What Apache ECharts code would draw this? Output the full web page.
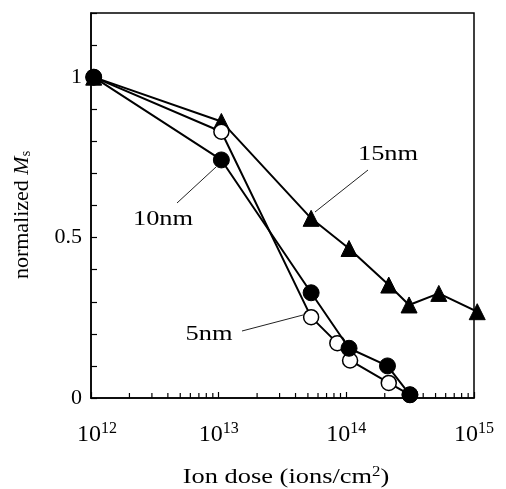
<!DOCTYPE html>
<html><head><meta charset="utf-8">
<script src="https://cdn.jsdelivr.net/npm/echarts@6/dist/echarts.min.js"></script>
<style>html,body{margin:0;padding:0;background:#fff}#c{width:506px;height:489px}</style>
</head><body><div id="c"></div>
<script>
// ---- data (doses) ----
const dose15 = [1.05e12, 1.05e13, 5.3e13, 1.05e14, 2.15e14, 3.1e14, 5.3e14, 1.06e15];
const ms15   = [1.0, 0.862, 0.56, 0.466, 0.352, 0.29, 0.326, 0.269];
const dose10 = [1.05e12, 1.05e13, 5.3e13, 1.05e14, 2.1e14, 3.15e14];
const ms10   = [1.0, 0.742, 0.328, 0.155, 0.10, 0.01];
const dose5  = [1.05e12, 1.05e13, 5.3e13, 8.5e13, 1.07e14, 2.15e14, 3.15e14];
const ms5    = [1.0, 0.83, 0.252, 0.171, 0.117, 0.047, 0.01];
const yTickLabels = [0, 0.5, 1];
const minorTickValues = [];
[1e12, 1e13, 1e14].forEach(d => { for (let k = 2; k <= 9; k++) minorTickValues.push(k * d); });

const FONT = '"Liberation Serif", "DejaVu Serif", serif';
const zip = (a, b) => a.map((v, i) => [v, b[i]]);

const chart = echarts.init(document.getElementById('c'), null, {renderer: 'canvas'});
const lineStyle = {color: '#000', width: 2};
const SX = 1.2;
chart.setOption({
  animation: false,
  grid: {left: 91, right: 32, top: 13, bottom: 91, show: true, borderColor: '#000', borderWidth: 1.5, backgroundColor: 'transparent'},
  xAxis: {
    type: 'log', logBase: 10, min: 1e12, max: 1e15,
    axisLine: {lineStyle: {color: '#000', width: 1.5}},
    axisTick: {inside: true, length: 6, lineStyle: {color: '#000', width: 1.2}},
    splitLine: {show: false},
    axisLabel: {
      margin: 23,
      formatter: v => {
        const e = Math.round(Math.log10(v));
        return (e === 12 ? '{f|10}' : '{b|10}') + '{s|' + e + '}';
      },
      rich: {
        f: {fontFamily: FONT, fontSize: 24, color: '#000', padding: [0, 0, 0, 12]},
        b: {fontFamily: FONT, fontSize: 24, color: '#000'},
        s: {fontFamily: FONT, fontSize: 16, color: '#000', verticalAlign: 'top', padding: [0, 0, 12, 0]}
      }
    }
  },
  yAxis: {
    type: 'value', min: 0, max: 1.2, interval: 0.1,
    axisLine: {show: true, lineStyle: {color: '#000', width: 1.5}},
    axisTick: {inside: true, length: 6, lineStyle: {color: '#000', width: 1.2}},
    splitLine: {show: false},
    axisLabel: {
      margin: 9, fontFamily: FONT, fontSize: 22, color: '#000',
      formatter: v => {
        const m = yTickLabels.find(t => Math.abs(t - v) < 1e-6);
        return m === undefined ? '' : String(m);
      }
    }
  },
  series: [
    {
      type: 'custom', silent: true, z: 1,
      data: minorTickValues.map(v => [v, 0]),
      renderItem: (params, api) => {
        const p = api.coord([api.value(0), 0]);
        return {type: 'line', shape: {x1: p[0], y1: p[1], x2: p[0], y2: p[1] - 5}, style: {stroke: '#000', lineWidth: 1.2}};
      }
    },
    {
      name: '15nm', type: 'line', data: zip(dose15, ms15), clip: false, z: 2,
      symbol: 'triangle', symbolSize: 16, lineStyle,
      itemStyle: {color: '#000', borderColor: '#000'}
    },
    {
      name: '5nm', type: 'line', data: zip(dose5, ms5), clip: false, z: 3,
      symbol: 'circle', symbolSize: 15, showAllSymbol: true, lineStyle,
      itemStyle: {color: '#fff', borderColor: '#000', borderWidth: 1.5}
    },
    {
      name: '10nm', type: 'line', data: zip(dose10, ms10), clip: false, z: 4,
      symbol: 'circle', symbolSize: 16, lineStyle,
      itemStyle: {color: '#000', borderColor: '#000'}
    }
  ],
  graphic: [
    {type: 'text', x: 388, y: 154, scaleX: SX, style: {text: '15nm', font: '22px ' + FONT, fill: '#000', align: 'center', verticalAlign: 'middle'}},
    {type: 'line', shape: {x1: 368, y1: 170, x2: 315, y2: 212}, style: {stroke: '#222', lineWidth: 1}},
    {type: 'text', x: 163, y: 219, scaleX: SX, style: {text: '10nm', font: '22px ' + FONT, fill: '#000', align: 'center', verticalAlign: 'middle'}},
    {type: 'line', shape: {x1: 177, y1: 203, x2: 216, y2: 167}, style: {stroke: '#222', lineWidth: 1}},
    {type: 'text', x: 209, y: 334, scaleX: SX, style: {text: '5nm', font: '22px ' + FONT, fill: '#000', align: 'center', verticalAlign: 'middle'}},
    {type: 'line', shape: {x1: 242, y1: 331, x2: 303, y2: 315}, style: {stroke: '#222', lineWidth: 1}},
    {
      type: 'text', x: 22, y: 215, rotation: Math.PI / 2,
      style: {
        text: '{n|normalized }{m|M}{s|s}', align: 'center', verticalAlign: 'middle',
        rich: {
          n: {fontFamily: FONT, fontSize: 22, fill: '#000'},
          m: {fontFamily: FONT, fontSize: 22, fontStyle: 'italic', fill: '#000'},
          s: {fontFamily: FONT, fontSize: 14, fill: '#000', verticalAlign: 'bottom', padding: [9, 0, 0, 0]}
        }
      }
    },
    {
      type: 'text', x: 286, y: 477, scaleX: SX,
      style: {
        text: '{n|Ion dose (ions/cm}{s|2}{n|)}', align: 'center', verticalAlign: 'middle',
        rich: {
          n: {fontFamily: FONT, fontSize: 22, fill: '#000'},
          s: {fontFamily: FONT, fontSize: 14, fill: '#000', verticalAlign: 'top', padding: [0, 0, 10, 0]}
        }
      }
    }
  ]
});
</script></body></html>
